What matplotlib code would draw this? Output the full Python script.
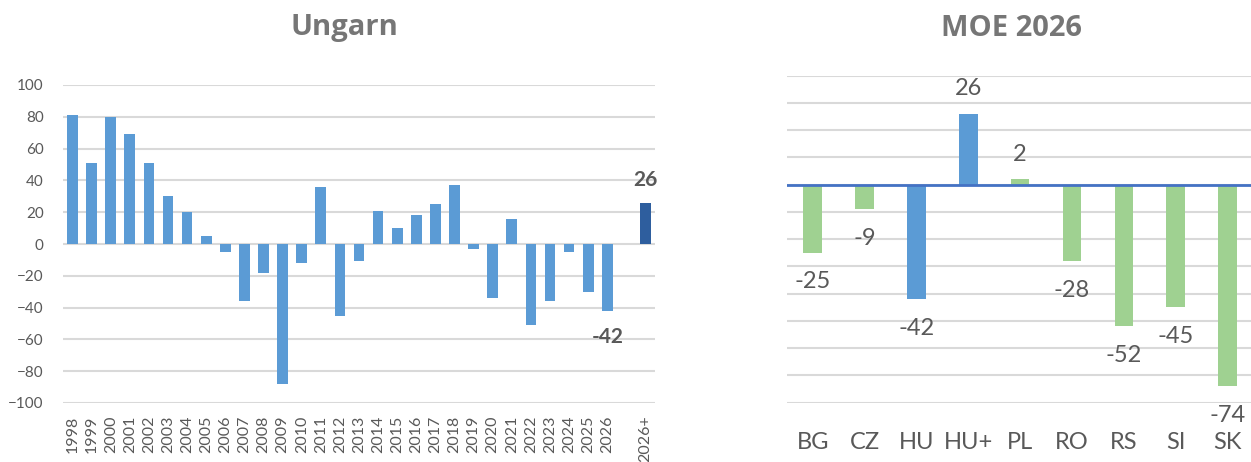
import matplotlib
matplotlib.use("Agg")
import matplotlib.pyplot as plt
import numpy as np

# left chart: Ungarn
years = [str(y) for y in range(1998, 2027)] + ["", "2026+"]
hu_values = [81, 51, 80, 69, 51, 30, 20, 5, -5, -36, -18, -88, -12, 36, -45, -11,
             21, 10, 18, 25, 37, -3, -34, 16, -51, -36, -5, -30, -42, None, 26]
hu_labels = {"2026": "-42", "2026+": "26"}

# right chart: MOE 2026
countries = ["BG", "CZ", "HU", "HU+", "PL", "RO", "RS", "SI", "SK"]
moe_values = [-25, -9, -42, 26, 2, -28, -52, -45, -74]
moe_highlight = ["HU", "HU+"]

BLUE = "#5B9BD5"
DARK_BLUE = "#2E5E9E"
GREEN = "#9FD191"
GRID = "#D9D9D9"
TXT = "#595959"
TITLE = "#767676"

plt.rcParams["font.family"] = ["Lato", "DejaVu Sans"]

fig = plt.figure(figsize=(12.51, 4.62), dpi=100)
W, H = 1251, 462

def px_axes(x0, y0, x1, y1):
    return fig.add_axes([x0 / W, 1 - y1 / H, (x1 - x0) / W, (y1 - y0) / H])

# ---- Ungarn
ax1 = px_axes(63, 85, 655, 403)
x = np.arange(len(years))
vals = np.array([np.nan if v is None else v for v in hu_values], dtype=float)
colors = [DARK_BLUE if y == "2026+" else BLUE for y in years]
ax1.bar(x, np.nan_to_num(vals), width=0.56, color=colors, zorder=3)
ax1.set_xlim(-0.5, len(years) - 0.5)
ax1.set_ylim(-100, 100)
ax1.set_yticks(range(-100, 101, 20))
ax1.grid(axis="y", color=GRID, linewidth=1.5, zorder=0)
ax1.set_xticks(x)
ax1.set_xticklabels(years, rotation=90, fontsize=11.5, color=TXT)
ax1.tick_params(axis="y", length=0, pad=14, labelsize=11, labelcolor=TXT)
ax1.tick_params(axis="x", length=0, pad=9)
for s in ax1.spines.values():
    s.set_visible(False)
for i, y in enumerate(years):
    if y in hu_labels:
        v = vals[i]
        off = 9 if v > 0 else -12
        ax1.annotate(hu_labels[y], (i, v), xytext=(0, off), textcoords="offset points",
                     ha="center", va="bottom" if v > 0 else "top",
                     fontsize=15, fontweight="bold", color=TXT)
fig.text(344 / W, 1 - 28 / H, "Ungarn", ha="center", va="center", fontsize=21,
         fontweight="bold", color=TITLE, family=["Open Sans", "DejaVu Sans"])

# ---- MOE 2026
ax2 = px_axes(786.7, 75.7, 1251, 402.7)
xc = np.arange(len(countries))
c2 = [BLUE if c in moe_highlight else GREEN for c in countries]
ax2.bar(xc, moe_values, width=0.36, color=c2, zorder=3)
ax2.set_xlim(-0.5, 8.45)
ax2.set_ylim(-80, 40)
ax2.set_yticks(range(-80, 41, 10))
ax2.set_yticklabels([])
ax2.grid(axis="y", color=GRID, linewidth=1.5, zorder=0)
ax2.axhline(0, color="#4472C4", linewidth=2, zorder=4)
ax2.set_xticks(xc)
ax2.set_xticklabels(countries, fontsize=17, color=TXT)
ax2.tick_params(axis="y", length=0)
ax2.tick_params(axis="x", length=0, pad=21)
for s in ax2.spines.values():
    s.set_visible(False)
for i, v in enumerate(moe_values):
    off = 18 if v > 0 else -21
    ax2.annotate(str(v), (i, v), xytext=(0, off), textcoords="offset points",
                 ha="center", va="center", fontsize=17, color=TXT)
fig.text(1011 / W, 1 - 28 / H, "MOE 2026", ha="center", va="center", fontsize=21,
         fontweight="bold", color=TITLE, family=["Open Sans", "DejaVu Sans"])

fig.savefig("out.png", dpi=100)
